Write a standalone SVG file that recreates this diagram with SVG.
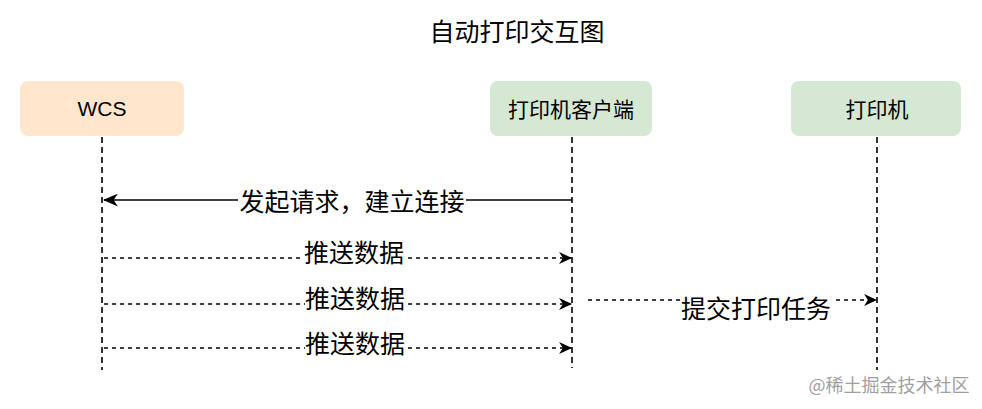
<svg xmlns="http://www.w3.org/2000/svg" width="982" height="409" viewBox="0 0 982 409">
<style>
.t{font-family:"Noto Sans CJK SC","Liberation Sans",sans-serif;fill:#000;text-anchor:middle;dominant-baseline:central}
.life{stroke:#000;stroke-width:1.6;stroke-dasharray:6 4;fill:none}
.msg{stroke:#000;stroke-width:1.4;fill:none}
.dash{stroke-dasharray:4 4}
.lbl{fill:#fff}
</style>
<defs>
<marker id="ah" viewBox="0 0 12 11" refX="11" refY="5.5" markerWidth="13" markerHeight="12" markerUnits="userSpaceOnUse" orient="auto">
<path d="M0,0 L12,5.5 L0,11 L3.5,5.5 Z" fill="#000"/>
</marker>
<marker id="ahl" viewBox="0 0 14 12" refX="13" refY="6" markerWidth="15" markerHeight="13" markerUnits="userSpaceOnUse" orient="auto">
<path d="M0,0 L14,6 L0,12 L4,6 Z" fill="#000"/>
</marker>
</defs>
<rect width="982" height="409" fill="#fff"/>
<text class="t" x="517" y="30" font-size="25">自动打印交互图</text>
<g id="wcs">
<rect x="20" y="81" width="164" height="55" rx="8" fill="#ffe6cc"/>
<text class="t" x="102" y="108" font-size="21" style="font-family:'Liberation Sans',Arial,sans-serif">WCS</text>
</g>
<g id="client">
<rect x="490" y="81" width="162" height="55" rx="8" fill="#d5e8d4"/>
<text class="t" x="571" y="108" font-size="21">打印机客户端</text>
</g>
<g id="printer">
<rect x="791" y="81" width="170" height="55" rx="8" fill="#d5e8d4"/>
<text class="t" x="877" y="108" font-size="21">打印机</text>
</g>
<g id="connectors">
<line class="life" x1="102" y1="137" x2="102" y2="370"/>
<line class="life" x1="572" y1="137" x2="572" y2="368"/>
<line class="life" x1="877" y1="137" x2="877" y2="370"/>
<line class="msg" x1="572" y1="200" x2="104" y2="200" marker-end="url(#ahl)"/>
<rect class="lbl" x="238" y="187" width="228" height="28"/>
<text class="t" x="352" y="200" font-size="25">发起请求，建立连接</text>
<line class="msg dash" x1="104" y1="258" x2="571" y2="258" marker-end="url(#ah)"/>
<rect class="lbl" x="304" y="238" width="101" height="26"/>
<text class="t" x="354" y="251" font-size="25">推送数据</text>
<line class="msg dash" x1="104" y1="304" x2="571" y2="304" marker-end="url(#ah)"/>
<rect class="lbl" x="305" y="284" width="101" height="26"/>
<text class="t" x="355" y="297" font-size="25">推送数据</text>
<line class="msg dash" x1="104" y1="348" x2="571" y2="348" marker-end="url(#ah)"/>
<rect class="lbl" x="305" y="329" width="101" height="26"/>
<text class="t" x="355" y="342" font-size="25">推送数据</text>
<line class="msg dash" x1="588" y1="300" x2="876" y2="300" marker-end="url(#ah)"/>
<rect class="lbl" x="680" y="293" width="152" height="28"/>
<text class="t" x="756" y="307" font-size="25">提交打印任务</text>
</g>
<text class="t" x="889" y="384" font-size="18" style="fill:#a0a0a0">@稀土掘金技术社区</text>
</svg>
